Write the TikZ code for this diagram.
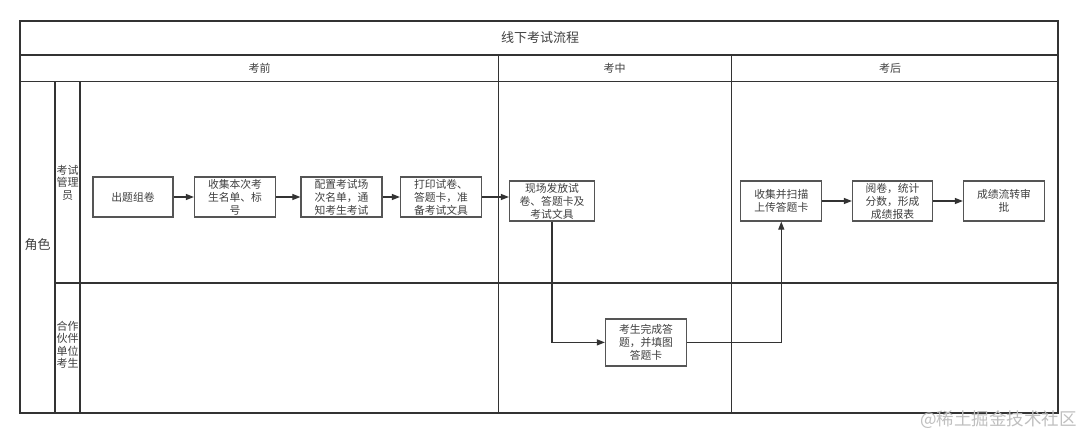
\documentclass[tikz,border=0pt]{standalone}
\usepackage{fontspec}
\setmainfont{Noto Sans CJK SC}
\newfontfamily\cjk{Noto Sans CJK SC}
\usetikzlibrary{arrows.meta}
\definecolor{ln}{HTML}{333333}
\definecolor{bx}{HTML}{555555}
\definecolor{tx}{HTML}{404040}
\tikzset{
  frame/.style={draw=ln, line width=1.7pt},
  stepbox/.style={draw=bx, line width=1.2pt, fill=white, text=tx, inner sep=0pt,
    font=\cjk\fontsize{10.8}{13}\selectfont, align=center},
  flow/.style={draw=ln, line width=1.1pt, -{Triangle[length=8pt,width=6pt]}},
  lbl/.style={text=tx, inner sep=0pt, align=center},
}
\begin{document}
\begin{tikzpicture}[x=1pt,y=-1pt]
\useasboundingbox[fill=white] (0,0) rectangle (1080,429);
% frame
\draw[frame] (20,21) rectangle (1058,413);
\draw[frame] (20,55) -- (1058,55);
\draw[frame] (20,81.6) -- (1058,81.6);
\draw[frame] (55,81.6) -- (55,413);
\draw[frame] (80,81.6) -- (80,413);
\draw[frame] (55,283.3) -- (1058,283.3);
\draw[frame] (498.6,55) -- (498.6,413);
\draw[frame] (731.5,55) -- (731.5,413);
% headers
\node[lbl, font=\cjk\fontsize{13}{14}\selectfont] (title) at (540,38) {线下考试流程};
\node[lbl, font=\cjk\fontsize{11}{12}\selectfont] (h1) at (259.5,68.3) {考前};
\node[lbl, font=\cjk\fontsize{11}{12}\selectfont] (h2) at (614.5,68.3) {考中};
\node[lbl, font=\cjk\fontsize{11}{12}\selectfont] (h3) at (890,68.3) {考后};
\node[lbl, font=\cjk\fontsize{13}{14}\selectfont] (role) at (37.5,244.8) {角色};
\node[lbl, font=\cjk\fontsize{11}{12.5}\selectfont] (r1) at (67.5,182.4) {考试\\管理\\员};
\node[lbl, font=\cjk\fontsize{11}{12.5}\selectfont] (r2) at (67.5,345) {合作\\伙伴\\单位\\考生};
% steps
\node[stepbox, minimum width=80pt, minimum height=40pt] (s1) at (133,197) {出题组卷};
\node[stepbox, minimum width=81pt, minimum height=40pt] (s2) at (235,197) {收集本次考\\生名单、标\\号};
\node[stepbox, minimum width=81pt, minimum height=40pt] (s3) at (341.5,197) {配置考试场\\次名单，通\\知考生考试};
\node[stepbox, minimum width=81pt, minimum height=40pt] (s4) at (441,197) {打印试卷、\\答题卡，准\\备考试文具};
\node[stepbox, minimum width=85pt, minimum height=40pt] (s5) at (552,201) {现场发放试\\卷、答题卡及\\考试文具};
\node[stepbox, minimum width=81pt, minimum height=47pt] (s6) at (646,342.4) {考生完成答\\题，并填图\\答题卡};
\node[stepbox, minimum width=81pt, minimum height=40pt] (s7) at (781.3,201) {收集并扫描\\上传答题卡};
\node[stepbox, minimum width=80pt, minimum height=40pt] (s8) at (892.5,201) {阅卷，统计\\分数，形成\\成绩报表};
\node[stepbox, minimum width=81pt, minimum height=40pt] (s9) at (1004,201) {成绩流转审\\批};
% flows
\draw[flow] (s1) -- (s2);
\draw[flow] (s2) -- (s3);
\draw[flow] (s3) -- (s4);
\draw[flow] (s4.east) -- (s5.west |- s4.east);
\draw[flow] (s5.south) |- (s6.west);
\draw[flow] (s6.east) -| (s7.south);
\draw[flow] (s7) -- (s8);
\draw[flow] (s8) -- (s9);
% watermark
\node[text=black!25, inner sep=0pt, font=\cjk\fontsize{17.5}{19}\selectfont, anchor=east] (wm) at (1077,420) {@稀土掘金技术社区};
\end{tikzpicture}
\end{document}
